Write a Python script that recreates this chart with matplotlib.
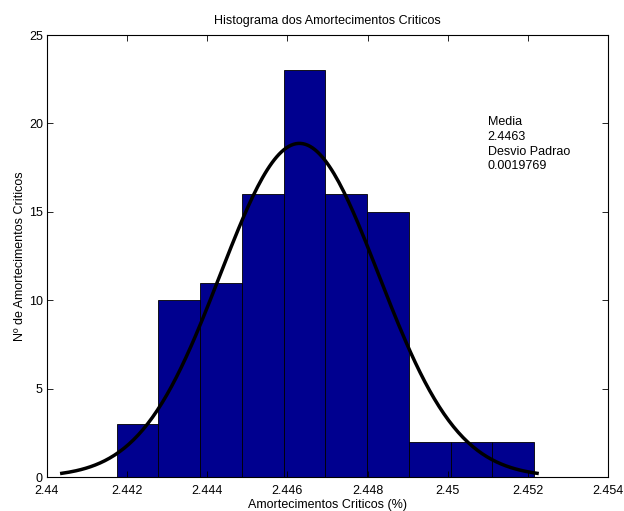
import numpy as np
import matplotlib
matplotlib.use("Agg")
import matplotlib.pyplot as plt

plt.rcParams["font.family"] = ["Liberation Sans", "DejaVu Sans"]

# histograma (10 classes)
contagens = [3, 10, 11, 16, 23, 16, 15, 2, 2, 2]
x_min, x_max = 2.44174, 2.45216
media = 2.4463
desvio = 0.0019769
pico = 18.87

bordas = np.linspace(x_min, x_max, len(contagens) + 1)
largura = bordas[1] - bordas[0]

xc = np.linspace(media - 3 * desvio, media + 3 * desvio, 200)
yc = pico * np.exp(-0.5 * ((xc - media) / desvio) ** 2)

fig = plt.figure(figsize=(6.24, 5.11), dpi=100)
ax = fig.add_axes([0.0753, 0.0665, 0.899, 0.865])
ax.bar(bordas[:-1], contagens, width=largura, align="edge",
       color="#00008F", edgecolor="black", linewidth=0.6)
ax.plot(xc, yc, color="black", linewidth=2.5)

ax.set_xlim(2.44, 2.454)
ax.set_ylim(0, 25)
ax.set_xticks(np.arange(2.44, 2.4541, 0.002))
ax.set_xticklabels(["2.44", "2.442", "2.444", "2.446", "2.448", "2.45", "2.452", "2.454"])
ax.set_yticks([0, 5, 10, 15, 20, 25])
ax.tick_params(direction="in", length=4, width=0.6, labelsize=9,
               top=True, right=True)
ax.tick_params(axis="x", pad=6)
ax.tick_params(axis="y", pad=3)
for s in ax.spines.values():
    s.set_linewidth(0.8)

ax.set_title("Histograma dos Amortecimentos Criticos", fontsize=9, pad=8)
ax.set_xlabel("Amortecimentos Criticos (%)", fontsize=9, labelpad=1)
ax.set_ylabel("Nº de Amortecimentos Criticos", fontsize=9, labelpad=2)
ax.text(2.451, 20.4, "Media\n2.4463\nDesvio Padrao\n0.0019769",
        fontsize=9, va="top", ha="left", linespacing=1.3)

fig.savefig("out.png", dpi=100)
